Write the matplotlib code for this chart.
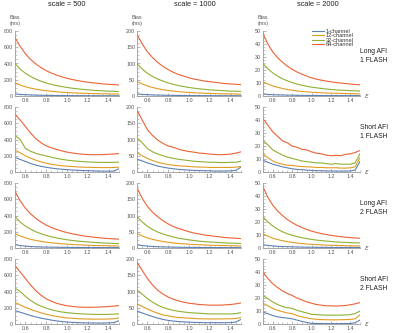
"""
Bias vs epsilon for 1/12/32/64-channel coils, grid of AFI/FLASH
variants (rows) against noise scale (columns). Saves out.png.
"""

import matplotlib.pyplot as plt
from matplotlib.ticker import MultipleLocator

plt.rcParams['font.family'] = ['Liberation Sans', 'DejaVu Sans']

W, H = 400, 333

EPS = [0.50, 0.55, 0.60, 0.65, 0.70, 0.75, 0.80, 0.85, 0.90, 0.95, 1.00,
       1.05, 1.10, 1.15, 1.20, 1.25, 1.30, 1.35, 1.40, 1.45, 1.50]

CHANNELS   = ['1-channel', '12-channel', '32-channel', '64-channel']
COLORS     = ['#5E81B5', '#E19C24', '#8FB032', '#EB6235']
SCALES     = [500, 1000, 2000]
YMAX       = [800, 200, 50]
YSTEP      = [200, 50, 10]
ROW_LABELS = ['Long AFI\n1 FLASH', 'Short AFI\n1 FLASH',
              'Long AFI\n2 FLASH', 'Short AFI\n2 FLASH']

# each panel: [1-ch, 12-ch, 32-ch, 64-ch], values in ms at EPS
long1_500 = [
    [25, 20, 16, 13, 11, 9, 8, 7, 6, 5.5, 5, 4.5, 4, 4, 3.5, 3.5, 3, 3, 3, 3, 3],
    [165, 135, 113, 97, 84, 73, 65, 58, 52, 47, 43, 39, 36, 34, 32, 30, 28, 27, 26, 25, 24],
    [400, 330, 280, 240, 208, 182, 160, 143, 128, 116, 105, 96, 88, 82, 76, 71, 67, 63, 60, 57, 55],
    [720, 610, 520, 450, 395, 350, 312, 282, 257, 236, 218, 203, 190, 179, 170, 162, 155, 149, 144, 140, 136],
]
long1_1000 = [
    [6, 5, 4, 3.4, 2.9, 2.5, 2.1, 1.9, 1.7, 1.5, 1.4, 1.3, 1.2, 1.1, 1, 1, 0.9, 0.9, 0.9, 0.8, 0.8],
    [45, 37, 31, 26, 22.5, 19.5, 17, 15, 13.5, 12, 11, 10, 9.2, 8.5, 8, 7.5, 7, 6.7, 6.4, 6.1, 6],
    [100, 83, 70, 60, 52, 46, 40, 36, 32, 29, 26, 24, 22, 20.5, 19, 18, 17, 16, 15, 14.5, 14],
    [190, 160, 136, 118, 103, 91, 81, 73, 66, 61, 56, 52, 49, 46, 44, 42, 40, 38, 37, 36, 35],
]
long1_2000 = [
    [1.5, 1.2, 1, 0.9, 0.8, 0.7, 0.6, 0.5, 0.5, 0.45, 0.4, 0.4, 0.35, 0.35, 0.3, 0.3, 0.3, 0.3, 0.3, 0.3, 0.3],
    [11, 9.2, 7.8, 6.7, 5.8, 5, 4.4, 3.9, 3.5, 3.2, 2.9, 2.7, 2.5, 2.3, 2.2, 2.1, 2, 1.9, 1.8, 1.7, 1.7],
    [25, 21, 17.8, 15.3, 13.3, 11.7, 10.3, 9.2, 8.3, 7.5, 6.8, 6.3, 5.8, 5.4, 5, 4.7, 4.5, 4.3, 4.1, 4, 3.8],
    [48, 40, 34, 29.5, 26, 23, 20.5, 18.5, 16.8, 15.3, 14, 13, 12.2, 11.5, 10.9, 10.4, 10, 9.6, 9.2, 8.9, 8.6],
]
short1_500 = [
    [180, 155, 130, 105, 85, 70, 58, 48, 40, 34, 29, 25, 21, 18, 16, 14, 12, 11, 10, 12, 40],
    [270, 235, 200, 170, 145, 125, 108, 95, 85, 77, 71, 67, 63, 60, 58, 56, 55, 54, 54, 55, 60],
    [450, 400, 290, 255, 230, 212, 198, 182, 168, 156, 146, 139, 133, 128, 124, 121, 119, 118, 118, 119, 122],
    [710, 640, 560, 480, 410, 360, 322, 298, 278, 260, 245, 234, 225, 219, 215, 213, 213, 215, 218, 222, 228],
]
short1_1000 = [
    [40, 34, 28, 23, 18, 15, 12, 10, 8, 7, 6, 5, 4.5, 4, 3.5, 3, 3, 3, 3.5, 5, 15],
    [60, 50, 42, 35, 30, 26, 23, 21, 19, 18, 17, 16, 15, 15, 14, 14, 14, 14, 14, 15, 17],
    [105, 90, 72, 62, 55, 50, 45, 42, 39, 37, 35, 33, 32, 31, 30, 30, 29, 29, 30, 30, 33],
    [190, 160, 130, 112, 98, 88, 80, 76, 70, 66, 63, 61, 58, 57, 55, 54, 53, 54, 55, 58, 62],
]
short1_2000 = [
    [9, 7.5, 6, 5, 4, 3.2, 2.5, 2, 1.8, 1.5, 1.2, 1, 1, 0.8, 0.8, 0.7, 0.7, 0.7, 0.8, 1.5, 8],
    [14, 11, 8.5, 7, 6, 5.2, 5, 4.5, 4.2, 4, 3.8, 3.5, 3.5, 3.3, 3.2, 3.3, 3, 3, 3.2, 4, 11],
    [24, 21, 17, 15, 13, 11.5, 10.5, 9.5, 8.5, 8, 7.5, 7, 7, 6.5, 6, 6.5, 6, 6, 6, 7, 14],
    [41, 36, 31, 27.5, 24, 22.5, 20, 19, 17.5, 17, 15.5, 14.5, 14, 13, 12.5, 12.8, 12.5, 13.5, 14, 15, 16.5],
]
long2_500 = [
    [41, 30, 23, 18, 15, 13, 11, 10, 9, 8, 7.5, 7, 6.5, 6, 6, 5.5, 5.5, 5, 5, 5, 5],
    [178, 148, 125, 107, 93, 82, 72, 64, 58, 52, 47, 43, 40, 37, 34, 32, 30, 29, 27, 26, 25],
    [386, 320, 270, 232, 200, 176, 155, 138, 124, 112, 101, 93, 86, 80, 75, 70, 66, 62, 59, 56, 54],
    [697, 580, 490, 420, 365, 320, 282, 252, 228, 207, 190, 175, 162, 151, 142, 134, 127, 121, 116, 112, 108],
]
long2_1000 = [
    [10, 7.5, 6, 4.8, 4, 3.4, 3, 2.6, 2.3, 2.1, 1.9, 1.8, 1.7, 1.6, 1.5, 1.4, 1.4, 1.3, 1.3, 1.3, 1.2],
    [45, 37, 31, 26.5, 23, 20, 17.5, 15.5, 14, 12.8, 11.7, 10.8, 10, 9.3, 8.7, 8.2, 7.8, 7.4, 7, 6.7, 6.4],
    [97, 80, 67, 57, 49, 43, 38, 34, 30, 27.5, 25, 23, 21, 19.5, 18.5, 17.5, 16.5, 15.5, 15, 14.5, 14],
    [185, 153, 128, 110, 96, 84, 74, 66, 60, 55, 50, 46, 43, 40, 38, 36, 34, 32, 31, 30, 29],
]
long2_2000 = [
    [2.5, 2, 1.6, 1.3, 1.1, 1, 0.9, 0.8, 0.7, 0.6, 0.6, 0.5, 0.5, 0.5, 0.4, 0.4, 0.4, 0.4, 0.4, 0.4, 0.4],
    [11, 9, 7.6, 6.5, 5.6, 4.9, 4.3, 3.8, 3.4, 3.1, 2.8, 2.6, 2.4, 2.2, 2.1, 2, 1.9, 1.8, 1.7, 1.6, 1.6],
    [24, 20, 17, 14.5, 12.5, 11, 9.8, 8.8, 8, 7.2, 6.6, 6.1, 5.7, 5.3, 5, 4.7, 4.5, 4.3, 4.1, 4, 3.9],
    [47, 39, 33, 28.5, 25, 22, 19.5, 17.5, 15.8, 14.3, 13, 12, 11.1, 10.4, 9.7, 9.2, 8.7, 8.3, 8, 7.7, 7.5],
]
short2_500 = [
    [165, 145, 125, 105, 87, 72, 60, 48, 38, 30, 24, 20, 17, 15, 13, 12, 12, 12, 13, 18, 40],
    [265, 235, 205, 180, 158, 138, 120, 105, 93, 83, 75, 70, 66, 63, 61, 60, 60, 60, 62, 65, 75],
    [440, 400, 340, 290, 250, 220, 195, 175, 160, 148, 140, 133, 128, 124, 121, 119, 118, 118, 119, 121, 125],
    [720, 640, 560, 480, 410, 355, 310, 280, 255, 238, 225, 216, 210, 207, 205, 206, 208, 211, 215, 220, 228],
]
short2_1000 = [
    [40, 34, 28, 23, 18, 14, 11, 9, 7.5, 6.5, 5.5, 5, 4.5, 4, 4, 4, 4, 4, 4.5, 6, 14],
    [62, 54, 46, 39, 33, 28, 25, 22, 20, 19, 18, 17, 16, 16, 15.5, 15.5, 15.5, 16, 16, 17, 20],
    [105, 92, 78, 67, 58, 51, 46, 42, 39, 37, 35, 34, 33, 32, 31, 31, 31, 31, 31, 32, 35],
    [190, 165, 140, 120, 104, 92, 83, 76, 71, 67, 64, 62, 60, 59, 58, 58, 58, 59, 60, 62, 65],
]
short2_2000 = [
    [9, 8, 6.5, 5.5, 5, 4.5, 4, 3, 2, 1.2, 0.5, 0.4, 0.3, 0.3, 0.3, 0.3, 0.3, 0.3, 0.4, 1, 3],
    [16, 14, 12, 10.5, 9.5, 8.5, 8, 6.5, 5.5, 4.8, 4, 3.6, 3.4, 3.3, 3.2, 3.2, 3.3, 3.4, 3.5, 4, 7],
    [22, 19.5, 17, 15, 13.5, 12.5, 12, 10.5, 9.5, 8.5, 7.5, 7.2, 7, 6.8, 6.8, 6.8, 6.8, 7, 7.2, 8, 10],
    [40, 35, 31, 28, 25.5, 23.5, 22, 20, 18.5, 17, 16, 15, 14.5, 14, 14, 13.8, 14, 14.2, 14.8, 15.5, 16.5],
]

PANELS = [
    [long1_500, long1_1000, long1_2000],
    [short1_500, short1_1000, short1_2000],
    [long2_500, long2_1000, long2_2000],
    [short2_500, short2_1000, short2_2000],
]

# pixel layout (reference is 400x333)
COL_LEFT  = [15, 137, 263]
COL_WIDTH = [104, 104, 97]
ROW_TOP   = [31, 107, 183, 259]
ROW_H     = 65
TITLE_X   = [67, 195, 318]

AXIS_GRAY = '#9a9a9a'
TEXT_GRAY = '#555555'


def px_axes(fig, left, top, width, height):
    return fig.add_axes([left / W, 1 - (top + height) / H, width / W, height / H])


def style_axes(ax, ymax, ystep):
    ax.set_xlim(0.5, 1.5)
    ax.set_ylim(0, ymax)
    ax.set_xticks([0.6, 0.8, 1.0, 1.2, 1.4])
    ax.set_xticklabels(['0.6', '0.8', '1.0', '1.2', '1.4'])
    ax.yaxis.set_major_locator(MultipleLocator(ystep))
    ax.xaxis.set_minor_locator(MultipleLocator(0.05))
    ax.yaxis.set_minor_locator(MultipleLocator(ystep / 4))
    for side in ['top', 'right']:
        ax.spines[side].set_visible(False)
    for side in ['left', 'bottom']:
        ax.spines[side].set_color(AXIS_GRAY)
        ax.spines[side].set_linewidth(0.6)
    ax.tick_params(which='major', direction='in', length=2.2, width=0.5,
                   color=AXIS_GRAY, labelsize=3.9, labelcolor=TEXT_GRAY, pad=1.2)
    ax.tick_params(which='minor', direction='in', length=1.1, width=0.4,
                   color=AXIS_GRAY)
    ax.patch.set_alpha(0)


fig = plt.figure(figsize=(W / 100, H / 100), dpi=100)

for r, row in enumerate(PANELS):
    for c, panel in enumerate(row):
        ax = px_axes(fig, COL_LEFT[c], ROW_TOP[r], COL_WIDTH[c], ROW_H)
        for vals, color, name in zip(panel, COLORS, CHANNELS):
            ax.plot(EPS, vals, color=color, lw=0.8, label=name, clip_on=True)
        style_axes(ax, YMAX[c], YSTEP[c])
        if r == 0:
            fig.text(COL_LEFT[c] / W, 1 - 20.5 / H, 'Bias\n(ms)', ha='center',
                     va='center', fontsize=3.9, color=TEXT_GRAY, linespacing=1.3)
        if c == 2:
            fig.text((COL_LEFT[c] + COL_WIDTH[c] + 7) / W,
                     1 - (ROW_TOP[r] + ROW_H) / H, r'$\epsilon$',
                     ha='center', va='center', fontsize=5, color=TEXT_GRAY)
            fig.text(374 / W, 1 - (ROW_TOP[r] + 25) / H, ROW_LABELS[r],
                     ha='center', va='center', fontsize=4.9, color='#222222',
                     linespacing=1.25)
            if r == 0:
                ax.legend(loc='upper left', bbox_to_anchor=(309 / W, 1 - 26 / H),
                          bbox_transform=fig.transFigure, frameon=False,
                          fontsize=4.1, handlelength=2.2, handletextpad=0.3,
                          labelspacing=-0.1, borderpad=0, labelcolor='#333333')

for c, scale in enumerate(SCALES):
    fig.text(TITLE_X[c] / W, 1 - 5 / H, f'scale = {scale}', ha='center',
             va='center', fontsize=5.3, color='#222222')

fig.savefig('out.png', dpi=100)
